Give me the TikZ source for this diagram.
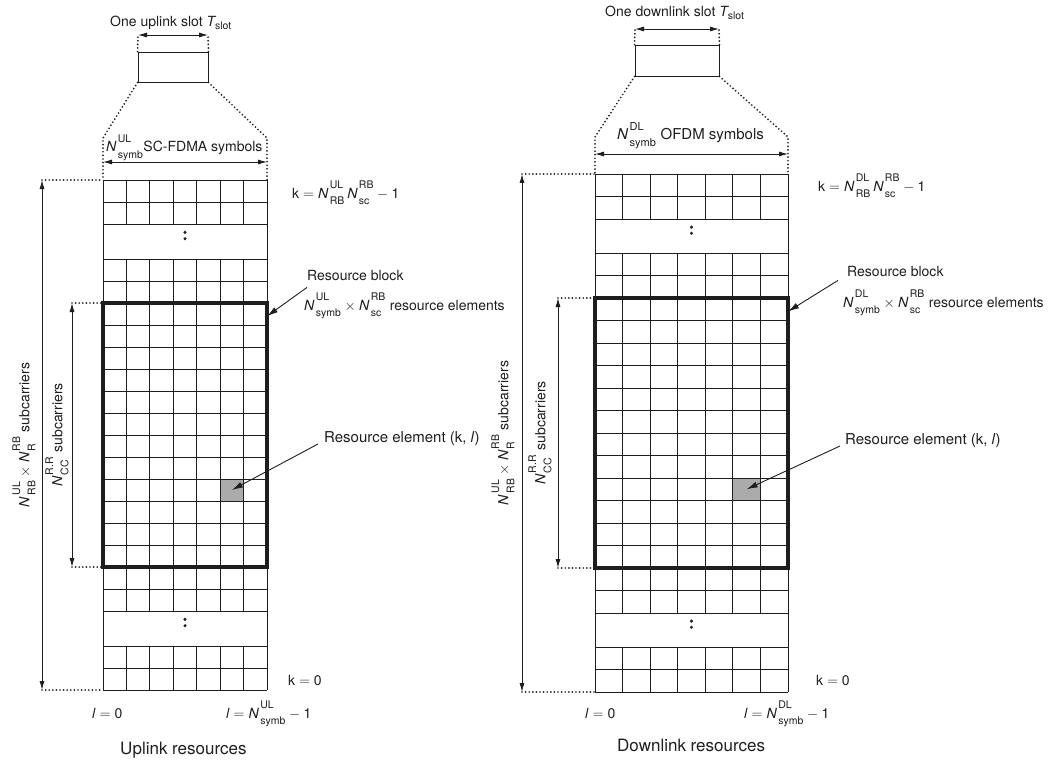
\documentclass[tikz,border=0pt]{standalone}
\usepackage{amsmath}
\usepackage{fontspec}
\setmainfont{TeX Gyre Heros}
\usepackage{tikz}
\usetikzlibrary{arrows.meta,positioning,calc}
\DeclareMathSizes{14}{14}{10.5}{8}
\DeclareMathSizes{15}{15}{11}{8.5}
\definecolor{ink}{HTML}{1E1E1E}
\definecolor{reshade}{HTML}{ABABAB}
\tikzset{
  cell/.style   ={line width=0.8pt,draw=ink},
  rblock/.style ={line width=3.1pt,draw=ink},
  guide/.style  ={line width=1.9pt,draw=ink,dash pattern=on 0pt off 3.6pt,line cap=round},
  span/.style   ={{Latex[length=9pt,width=5pt]}-{Latex[length=9pt,width=5pt]},line width=0.9pt,draw=ink},
  pointer/.style={-{Latex[length=11pt,width=6pt]},line width=0.9pt,draw=ink},
  slotbox/.style={draw=ink,line width=0.9pt,minimum width=70pt,minimum height=30pt,inner sep=0pt},
  lbl/.style    ={font=\fontsize{14}{17}\selectfont,inner sep=0pt,text=ink},
  lblwide/.style={font=\fontsize{15}{18}\selectfont,inner sep=0pt,text=ink},
  caption/.style={font=\fontsize{17}{20}\selectfont,inner sep=0pt,text=ink}
}
\newcommand{\Nsc}[2]{\textit{N}\mkern2mu^{\raisebox{4pt}{$\scriptstyle\text{#1}$}}_{\raisebox{-2.5pt}{$\scriptstyle\text{#2}$}}}
% one resource grid: name, left, cell width, top, cell height, gap height
\newcommand{\resgrid}[6]{%
  \begin{scope}[shift={(#2,#4)},x=#3pt,y=-#5pt]
    \pgfmathsetmacro\gp{#6/#5}
    \fill[reshade] (5,12+\gp) rectangle (6,13+\gp);
    \foreach \bs/\bn in {0/2,2+\gp/16,18+2*\gp/2}{
      \foreach \i in {0,...,\bn} \draw[cell] (0,\bs+\i) -- (7,\bs+\i);
      \foreach \j in {1,...,6} \draw[cell] (\j,\bs) -- (\j,\bs+\bn);
    }
    \draw[cell] (0,0) -- (0,20+2*\gp) (7,0) -- (7,20+2*\gp);
    % dots in the gaps
    \foreach \d in {2,18+\gp}
      \fill[ink] (3.5,\d+0.24*\gp) circle (1.7pt) (3.5,\d+0.42*\gp) circle (1.7pt);
    \draw[rblock] (0,4+\gp) rectangle (7,16+\gp);
    \coordinate (#1-tl) at (0,0);
    \coordinate (#1-tr) at (7,0);
    \coordinate (#1-bl) at (0,20+2*\gp);
    \coordinate (#1-br) at (7,20+2*\gp);
    \coordinate (#1-rbt) at (0,4+\gp);
    \coordinate (#1-rbb) at (0,16+\gp);
    \coordinate (#1-rbpt) at (7,4.6+\gp);
    \coordinate (#1-re) at (5.5,12.5+\gp);
  \end{scope}}
\begin{document}
\begin{tikzpicture}[x=1pt,y=-1pt]
  \useasboundingbox (0,0) rectangle (1059,762);
  \resgrid{L}{103}{23.43}{180}{22}{35}
  \resgrid{R}{595}{27.57}{174}{22.5}{34}

  % uplink slot
  \node[slotbox] (ulslot) at (173,67) {};
  \node[lbl,anchor=base west] (ultitle) at (110,27) {One uplink slot $\textit{T}_{\text{slot}}$};
  \coordinate (ulT-l) at (138,35);
  \coordinate (ulT-r) at (208,35);
  \draw[guide] (ulslot.north west) -- (ulT-l) (ulslot.north east) -- (ulT-r);
  \draw[span] (ulT-l) -- (ulT-r);
  \coordinate (Lfan-l) at (103,138);
  \coordinate (Lfan-r) at (267,138);
  \draw[guide] (ulslot.south west) -- (Lfan-l) -- (L-tl);
  \draw[guide] (ulslot.south east) -- (Lfan-r) -- (L-tr);
  \coordinate (Lsym-l) at (103,162);
  \coordinate (Lsym-r) at (267,162);
  \draw[span] (Lsym-l) -- (Lsym-r);
  \node[lbl,anchor=base west] (ulsym) at (106,152) {$\Nsc{UL}{symb}$SC-FDMA symbols};

  % uplink subcarrier spans
  \coordinate (Lk-t) at ([xshift=-61pt]L-tl);
  \coordinate (Lk-b) at ([xshift=-61pt]L-bl);
  \draw[guide] (Lk-t) -- (L-tl) (Lk-b) -- (L-bl);
  \draw[span] (Lk-t) -- (Lk-b);
  \coordinate (Lrb-t) at ([xshift=-31pt]L-rbt);
  \coordinate (Lrb-b) at ([xshift=-31pt]L-rbb);
  \draw[guide] (Lrb-t) -- (L-rbt) (Lrb-b) -- (L-rbb);
  \draw[span] (Lrb-t) -- (Lrb-b);
  \node[lbl,rotate=90] (ulNk) at (24,435) {$\Nsc{UL}{RB}\times\Nsc{RB}{R}$ subcarriers};
  \node[lbl,rotate=90] (ulNrb) at (57,435) {$\Nsc{R.R}{CC}$ subcarriers};

  % uplink labels
  \node[lbl,anchor=base west] (ulkmax) at (292,198) {k $= \Nsc{UL}{RB}\,\Nsc{RB}{sc} - \text{1}$};
  \node[lbl,anchor=base west] (ulrb) at (307,280) {Resource block};
  \node[lbl,anchor=base west] (ulrbsize) at (304,310) {$\Nsc{UL}{symb}\times\Nsc{RB}{sc}$ resource elements};
  \draw[pointer] ([yshift=-7pt]ulrb.south west) -- (L-rbpt);
  \node[lblwide,anchor=base west] (ulre) at (324,442) {Resource element (k, \textit{l})};
  \draw[pointer] ([xshift=-6pt,yshift=-2pt]ulre.base west) -- (L-re);
  \node[lbl,anchor=base west] (ulk0) at (288,685) {k $=$ 0};
  \node[lbl,anchor=base west] (ull0) at (92,718) {\textit{l} $=$ 0};
  \node[lbl,anchor=base west] (ullmax) at (226,718) {\textit{l} $= \Nsc{UL}{symb} - \text{1}$};
  \node[caption,anchor=base west] (ulcap) at (120,754) {Uplink resources};

  % downlink slot
  \node[slotbox,minimum width=84pt,minimum height=31pt] (dlslot) at (677,60.5) {};
  \node[lbl,anchor=base west] (dltitle) at (605,17) {One downlink slot $\textit{T}_{\text{slot}}$};
  \coordinate (dlT-l) at (635,29);
  \coordinate (dlT-r) at (719,29);
  \draw[guide] (dlslot.north west) -- (dlT-l) (dlslot.north east) -- (dlT-r);
  \draw[span] (dlT-l) -- (dlT-r);
  \coordinate (Rfan-l) at (595,137);
  \coordinate (Rfan-r) at (788,137);
  \draw[guide] (dlslot.south west) -- (Rfan-l) -- (R-tl);
  \draw[guide] (dlslot.south east) -- (Rfan-r) -- (R-tr);
  \coordinate (Rsym-l) at (595,154);
  \coordinate (Rsym-r) at (788,154);
  \draw[span] (Rsym-l) -- (Rsym-r);
  \node[lblwide,anchor=base west] (dlsym) at (617,140) {$\Nsc{DL}{symb}$ OFDM symbols};

  % downlink subcarrier spans
  \coordinate (Rk-t) at ([xshift=-73pt]R-tl);
  \coordinate (Rk-b) at ([xshift=-73pt]R-bl);
  \draw[guide] (Rk-t) -- (R-tl) (Rk-b) -- (R-bl);
  \draw[span] (Rk-t) -- (Rk-b);
  \coordinate (Rrb-t) at ([xshift=-37pt]R-rbt);
  \coordinate (Rrb-b) at ([xshift=-37pt]R-rbb);
  \draw[guide] (Rrb-t) -- (R-rbt) (Rrb-b) -- (R-rbb);
  \draw[span] (Rrb-t) -- (Rrb-b);
  \node[lbl,rotate=90] (dlNk) at (503,433) {$\Nsc{UL}{RB}\times\Nsc{RB}{R}$ subcarriers};
  \node[lbl,rotate=90] (dlNrb) at (540,433) {$\Nsc{R.R}{CC}$ subcarriers};

  % downlink labels
  \node[lbl,anchor=base west] (dlkmax) at (818,191) {k $= \Nsc{DL}{RB}\,\Nsc{RB}{sc} - \text{1}$};
  \node[lbl,anchor=base west] (dlrb) at (847,276) {Resource block};
  \node[lbl,anchor=base west] (dlrbsize) at (843,307) {$\Nsc{DL}{symb}\times\Nsc{RB}{sc}$ resource elements};
  \draw[pointer] ([xshift=-9pt,yshift=-4pt]dlrb.south west) -- (R-rbpt);
  \node[lblwide,anchor=base west] (dlre) at (845,444) {Resource element (k, \textit{l})};
  \draw[pointer] ([xshift=-5pt,yshift=-2pt]dlre.base west) -- (R-re);
  \node[lbl,anchor=base west] (dlk0) at (816,685) {k $=$ 0};
  \node[lbl,anchor=base west] (dll0) at (585,718) {\textit{l} $=$ 0};
  \node[lbl,anchor=base west] (dllmax) at (744,718) {\textit{l} $= \Nsc{DL}{symb} - \text{1}$};
  \node[caption,anchor=base west] (dlcap) at (617,751) {Downlink resources};
\end{tikzpicture}
\end{document}
